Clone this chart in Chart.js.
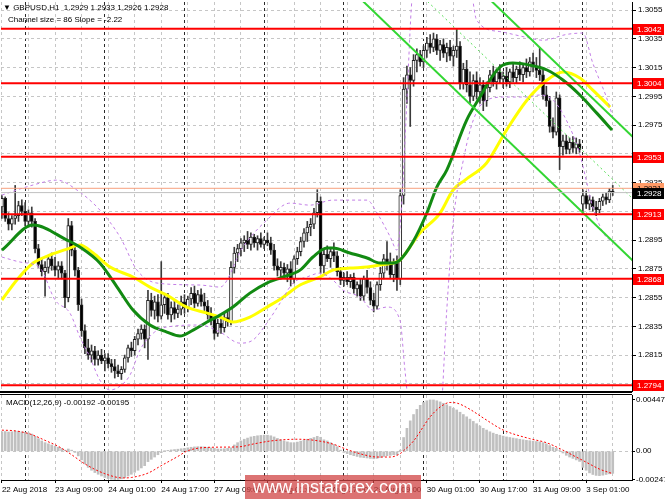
<!DOCTYPE html>
<html>
<head>
<meta charset="utf-8">
<script src="https://cdn.jsdelivr.net/npm/chart.js@4.4.0/dist/chart.umd.min.js"></script>
<style>
html, body { margin: 0; padding: 0; background: #fff; }
#wrap { position: relative; width: 665px; height: 499px; overflow: hidden; background: #fff; }
#main { position: absolute; left: 0; top: 0; }
#macd { position: absolute; left: 0; top: 393px; }
.t { position: absolute; font: 8px "Liberation Sans", Arial, sans-serif; line-height: 10px; color: #000; white-space: pre; }
#wm { position: absolute; left: 245px; top: 475px; width: 176px; height: 24px; background: rgba(208, 66, 66, 0.74);
      color: #fff; font: 18px "Liberation Sans", Arial, sans-serif; line-height: 25px; text-align: center; }
</style>
</head>
<body>
<div id="wrap">
  <canvas id="main" width="665" height="393"></canvas>
  <canvas id="macd" width="665" height="106"></canvas>
  <div class="t" style="left:3px;top:3px">▼ GBPUSD,H1  1.2929 1.2933 1.2926 1.2928</div>
  <div class="t" style="left:8px;top:15px">Channel size = 86 Slope = -2.22</div>
  <div class="t" style="left:6px;top:398px">MACD(12,26,9) -0.00192 -0.00195</div>
  <div id="wm">www.instaforex.com</div>
</div>
<script>
// GBPUSD H1, 22 Aug 17:00 .. 3 Sep 09:00 (bar index 0..184)
const timeLabels = ['22 Aug 2018', '23 Aug 09:00', '24 Aug 01:00', '24 Aug 17:00', '27 Aug 09:00', '28 Aug 01:00',
  '28 Aug 17:00', '29 Aug 09:00', '30 Aug 01:00', '30 Aug 17:00', '31 Aug 09:00', '3 Sep 01:00'];
const daySeparators = [7, 31, 55, 79, 103, 127, 151, 175];

const opens = [
  1.2918,1.2924,1.2910,1.2906,1.2910,1.2912,1.2919,1.2915,1.2908,1.2914,
  1.2908,1.2889,1.2878,1.2873,1.2876,1.2882,1.2877,1.2874,1.2877,1.2872,
  1.2855,1.2905,1.2888,1.2874,1.2850,1.2832,1.2820,1.2815,1.2818,1.2812,
  1.2815,1.2811,1.2813,1.2809,1.2807,1.2804,1.2802,1.2805,1.2813,1.2820,
  1.2818,1.2826,1.2830,1.2833,1.2826,1.2853,1.2846,1.2852,1.2842,1.2850,
  1.2855,1.2843,1.2848,1.2844,1.2847,1.2852,1.2848,1.2854,1.2858,1.2851,
  1.2857,1.2852,1.2849,1.2843,1.2840,1.2830,1.2837,1.2834,1.2841,1.2838,
  1.2876,1.2886,1.2889,1.2893,1.2895,1.2892,1.2897,1.2893,1.2896,1.2892,
  1.2895,1.2893,1.2888,1.2877,1.2874,1.2876,1.2872,1.2875,1.2868,1.2882,
  1.2887,1.2894,1.2900,1.2904,1.2906,1.2914,1.2922,1.2877,1.2885,1.2882,
  1.2887,1.2884,1.2873,1.2867,1.2869,1.2866,1.2869,1.2861,1.2864,1.2856,
  1.2868,1.2862,1.2853,1.2849,1.2864,1.2872,1.2882,1.2878,1.2871,1.2879,
  1.2868,1.2926,1.3000,1.3010,1.3006,1.3020,1.3024,1.3019,1.3027,1.3032,
  1.3029,1.3035,1.3027,1.3031,1.3025,1.3029,1.3023,1.3027,1.3030,1.3004,
  1.3014,1.3003,1.2995,1.3006,1.2998,1.3003,1.2992,1.3001,1.3010,1.3005,
  1.3012,1.3007,1.3009,1.3005,1.3012,1.3008,1.3014,1.3010,1.3015,1.3012,
  1.3019,1.3016,1.3013,1.3010,1.2996,1.2992,1.2974,1.2970,1.2994,1.2960,
  1.2964,1.2958,1.2963,1.2959,1.2962,1.2920,1.2926,1.2920,1.2923,1.2918,
  1.2916,1.2922,1.2925,1.2923,1.2929];
const highs = [
  1.2926,1.2925,1.2914,1.2912,1.2933,1.2922,1.2923,1.2921,1.2916,1.2918,
  1.2910,1.2892,1.2882,1.2880,1.2884,1.2886,1.2883,1.2880,1.2880,1.2874,
  1.2910,1.2908,1.2892,1.2876,1.2854,1.2836,1.2826,1.2822,1.2821,1.2818,
  1.2819,1.2816,1.2816,1.2812,1.2812,1.2808,1.2807,1.2815,1.2822,1.2824,
  1.2828,1.2833,1.2836,1.2836,1.2860,1.2858,1.2856,1.2857,1.2880,1.2858,
  1.2858,1.2852,1.2853,1.2850,1.2856,1.2857,1.2856,1.2862,1.2863,1.2860,
  1.2861,1.2858,1.2853,1.2848,1.2843,1.2840,1.2842,1.2844,1.2846,1.2880,
  1.2890,1.2892,1.2896,1.2898,1.2901,1.2900,1.2899,1.2898,1.2900,1.2897,
  1.2900,1.2897,1.2892,1.2882,1.2880,1.2879,1.2878,1.2880,1.2884,1.2890,
  1.2897,1.2903,1.2908,1.2910,1.2917,1.2930,1.2925,1.2888,1.2891,1.2890,
  1.2893,1.2887,1.2876,1.2872,1.2873,1.2871,1.2872,1.2866,1.2868,1.2870,
  1.2874,1.2866,1.2858,1.2866,1.2876,1.2885,1.2894,1.2886,1.2882,1.2884,
  1.2930,1.3008,1.3016,1.3015,1.3024,1.3028,1.3027,1.3030,1.3036,1.3038,
  1.3039,1.3038,1.3034,1.3035,1.3032,1.3034,1.3030,1.3042,1.3033,1.3018,
  1.3020,1.3012,1.3010,1.3012,1.3008,1.3006,1.3005,1.3013,1.3016,1.3014,
  1.3017,1.3012,1.3015,1.3014,1.3018,1.3016,1.3019,1.3017,1.3021,1.3022,
  1.3025,1.3022,1.3029,1.3013,1.3002,1.2995,1.2980,1.2998,1.2996,1.2968,
  1.2968,1.2966,1.2967,1.2966,1.2965,1.2930,1.2929,1.2926,1.2925,1.2922,
  1.2924,1.2927,1.2928,1.2931,1.2933];
const lows = [
  1.2910,1.2908,1.2902,1.2902,1.2906,1.2908,1.2912,1.2905,1.2904,1.2904,
  1.2886,1.2876,1.2870,1.2856,1.2872,1.2874,1.2870,1.2868,1.2868,1.2848,
  1.2852,1.2884,1.2870,1.2846,1.2828,1.2816,1.2812,1.2810,1.2808,1.2808,
  1.2809,1.2804,1.2806,1.2803,1.2799,1.2800,1.2798,1.2803,1.2810,1.2814,
  1.2815,1.2822,1.2826,1.2820,1.2812,1.2842,1.2840,1.2838,1.2840,1.2844,
  1.2840,1.2838,1.2840,1.2841,1.2843,1.2844,1.2845,1.2850,1.2848,1.2849,
  1.2849,1.2846,1.2840,1.2836,1.2826,1.2828,1.2830,1.2831,1.2835,1.2836,
  1.2872,1.2880,1.2884,1.2887,1.2889,1.2888,1.2890,1.2888,1.2890,1.2889,
  1.2891,1.2885,1.2874,1.2870,1.2868,1.2869,1.2866,1.2863,1.2865,1.2878,
  1.2884,1.2890,1.2894,1.2898,1.2903,1.2911,1.2872,1.2872,1.2880,1.2876,
  1.2880,1.2870,1.2864,1.2863,1.2864,1.2862,1.2858,1.2856,1.2853,1.2853,
  1.2858,1.2850,1.2845,1.2847,1.2860,1.2868,1.2874,1.2868,1.2866,1.2860,
  1.2864,1.2920,1.2990,1.2974,1.3002,1.3012,1.3016,1.3015,1.3022,1.3025,
  1.3026,1.3024,1.3020,1.3022,1.3019,1.3020,1.3016,1.3022,1.3000,1.3000,
  1.2998,1.2990,1.2992,1.2993,1.2990,1.2985,1.2988,1.2998,1.3002,1.3000,
  1.3004,1.3001,1.3002,1.3001,1.3005,1.3004,1.3006,1.3005,1.3008,1.3009,
  1.3012,1.3008,1.3006,1.2993,1.2988,1.2970,1.2966,1.2968,1.2944,1.2954,
  1.2955,1.2955,1.2956,1.2955,1.2956,1.2915,1.2917,1.2916,1.2915,1.2912,
  1.2914,1.2919,1.2920,1.2921,1.2926];
const closes = [
  1.2924,1.2910,1.2906,1.2910,1.2912,1.2919,1.2915,1.2908,1.2914,1.2908,
  1.2889,1.2878,1.2873,1.2876,1.2882,1.2877,1.2874,1.2877,1.2872,1.2855,
  1.2905,1.2888,1.2874,1.2850,1.2832,1.2820,1.2815,1.2818,1.2812,1.2815,
  1.2811,1.2813,1.2809,1.2807,1.2804,1.2802,1.2805,1.2813,1.2820,1.2818,
  1.2826,1.2830,1.2833,1.2826,1.2853,1.2846,1.2852,1.2842,1.2850,1.2855,
  1.2843,1.2848,1.2844,1.2847,1.2852,1.2848,1.2854,1.2858,1.2851,1.2857,
  1.2852,1.2849,1.2843,1.2840,1.2830,1.2837,1.2834,1.2841,1.2838,1.2876,
  1.2886,1.2889,1.2893,1.2895,1.2892,1.2897,1.2893,1.2896,1.2892,1.2895,
  1.2893,1.2888,1.2877,1.2874,1.2876,1.2872,1.2875,1.2868,1.2882,1.2887,
  1.2894,1.2900,1.2904,1.2906,1.2914,1.2922,1.2877,1.2885,1.2882,1.2887,
  1.2884,1.2873,1.2867,1.2869,1.2866,1.2869,1.2861,1.2864,1.2856,1.2868,
  1.2862,1.2853,1.2849,1.2864,1.2872,1.2882,1.2878,1.2871,1.2879,1.2868,
  1.2926,1.3000,1.3010,1.3006,1.3020,1.3024,1.3019,1.3027,1.3032,1.3029,
  1.3035,1.3027,1.3031,1.3025,1.3029,1.3023,1.3027,1.3030,1.3004,1.3014,
  1.3003,1.2995,1.3006,1.2998,1.3003,1.2992,1.3001,1.3010,1.3005,1.3012,
  1.3007,1.3009,1.3005,1.3012,1.3008,1.3014,1.3010,1.3015,1.3012,1.3019,
  1.3016,1.3013,1.3010,1.2996,1.2992,1.2974,1.2970,1.2994,1.2960,1.2964,
  1.2958,1.2963,1.2959,1.2962,1.2958,1.2926,1.2920,1.2923,1.2918,1.2916,
  1.2922,1.2925,1.2923,1.2929,1.2928];

// moving averages and bands, read as [bar index, price]
const greenMA = [[0,1.28880],[9.4,1.29054],[19.6,1.28950],[23.5,1.28901],[29.5,1.28790],[34.7,1.28623],[39.5,1.28463],
  [44.6,1.28359],[49.7,1.28310],[53.6,1.28282],[57.6,1.28324],[61.8,1.28380],[65.7,1.28428],[69.6,1.28484],[74.7,1.28581],
  [79.8,1.28651],[84.7,1.28693],[89.8,1.28741],[93.7,1.28832],[97.9,1.28894],[99.7,1.28894],[104.8,1.28860],[110,1.28825],
  [113.9,1.28790],[117.8,1.28790],[119.9,1.28811],[123.8,1.28936],[128,1.29138],[131,1.29319],[134,1.29437],[140,1.29785],
  [144,1.29945],[147,1.30063],[150,1.30153],[153.9,1.30181],[159,1.30167],[164.2,1.30133],[169,1.30063],[174.1,1.29959],
  [179.2,1.29833],[183.8,1.29715]];
const yellowMA = [[0,1.28533],[4.5,1.28672],[9.4,1.28790],[14.5,1.28846],[19.6,1.28887],[23.5,1.28915],[27.5,1.28860],
  [32.6,1.28762],[39.5,1.28693],[44.6,1.28623],[49.7,1.28567],[55.7,1.28483],[61.8,1.28442],[65.7,1.28414],[69.6,1.28380],
  [74.7,1.28414],[79.8,1.28483],[84.7,1.28553],[89.8,1.28637],[95.8,1.28693],[99.7,1.28741],[104.8,1.28755],[110,1.28762],
  [113.9,1.28776],[117.8,1.28790],[119.9,1.28811],[125.9,1.28999],[132,1.29138],[135.9,1.29298],[139.5,1.29367],
  [146,1.29486],[152,1.29715],[158.2,1.29924],[164.2,1.30063],[169,1.30119],[174.1,1.30077],[178,1.29993],[183.2,1.29875]];
const upperBand = [[0,1.29263],[9.4,1.29333],[16.6,1.29367],[22.6,1.29298],[29.5,1.29159],[35.6,1.28971],[40.7,1.28741],
  [46.7,1.28651],[59.7,1.28637],[65.7,1.28623],[72.6,1.28901],[79.8,1.29089],[86.8,1.29207],[92.8,1.29193],[99.7,1.29228],
  [110,1.29228],[113,1.29138],[117,1.28971],[119,1.28880],[120.5,1.29228],[122,1.29924],[123.5,1.30620],[126,1.3085],
  [132,1.3100],[138,1.3098],[141,1.3075],[143,1.3048],[150,1.3040],[158,1.3036],[163,1.3034],[170,1.3038],[175,1.3039],
  [178,1.3018],[182,1.2995],[184,1.2981]];
const lowerBand = [[0,1.28832],[5.5,1.28797],[11.5,1.28755],[16,1.28533],[20.5,1.28442],[23.5,1.28275],[26.5,1.28136],
  [29.5,1.27976],[32.6,1.27907],[35.6,1.27934],[38.6,1.28011],[41.6,1.28185],[46,1.28310],[52,1.28352],[59.7,1.28359],
  [65.7,1.28310],[71.7,1.28233],[75.6,1.28254],[79.8,1.28372],[83.8,1.28512],[87.7,1.28651],[91.9,1.28693],[95.8,1.28720],
  [99.7,1.28672],[102.7,1.28602],[107.9,1.28553],[111.8,1.28463],[116,1.28484],[119.9,1.28394],[121.4,1.28046],
  [123.5,1.27628],[127.4,1.27558],[132,1.27698],[134,1.28463],[136,1.29089],[139,1.29507],[142,1.29785],[146,1.29924],
  [152,1.29945],[158,1.29945],[162,1.29959],[166,1.29924],[170,1.29785],[174,1.29555],[176,1.29367],[178,1.29180],
  [182,1.28971],[184,1.28950]];

// regression channel end points [bar index, price]
const channelLower = [[100, 1.30806], [190, 1.28808]];
const channelMiddle = [[100, 1.31236], [190, 1.29238]];
const channelUpper = [[100, 1.31666], [190, 1.29668]];

const levels = [1.3042, 1.3004, 1.2953, 1.2913, 1.2868, 1.2794];
const bidPrice = 1.2928;
const askPrice = 1.2931;
const priceTicks = [1.3055, 1.3035, 1.3015, 1.2995, 1.2975, 1.2955, 1.2935, 1.2915, 1.2895, 1.2875, 1.2855, 1.2835, 1.2815, 1.2795];
const hiddenPriceTicks = [1.2955, 1.2915, 1.2795];

const macdMain = [
  0.00170,0.00172,0.00168,0.00170,0.00175,0.00172,0.00168,0.00165,0.00160,0.00150,
  0.00130,0.00110,0.00090,0.00075,0.00065,0.00055,0.00045,0.00035,0.00025,0.00010,
  0.00020,0.00010,-0.00010,-0.00040,-0.00075,-0.00110,-0.00140,-0.00165,-0.00185,-0.00200,
  -0.00215,-0.00228,-0.00238,-0.00244,-0.00247,-0.00245,-0.00240,-0.00230,-0.00215,-0.00200,
  -0.00183,-0.00165,-0.00145,-0.00125,-0.00090,-0.00070,-0.00050,-0.00030,-0.00012,0.00005,
  0.00008,0.00012,0.00015,0.00018,0.00022,0.00025,0.00030,0.00035,0.00038,0.00040,
  0.00040,0.00038,0.00035,0.00030,0.00025,0.00020,0.00020,0.00022,0.00025,0.00030,
  0.00055,0.00075,0.00090,0.00105,0.00115,0.00125,0.00130,0.00135,0.00138,0.00140,
  0.00140,0.00135,0.00125,0.00112,0.00100,0.00090,0.00082,0.00075,0.00075,0.00080,
  0.00088,0.00095,0.00105,0.00112,0.00120,0.00130,0.00122,0.00100,0.00090,0.00075,
  0.00060,0.00040,0.00010,-0.00010,-0.00020,-0.00030,-0.00038,-0.00045,-0.00052,-0.00055,
  -0.00058,-0.00062,-0.00065,-0.00062,-0.00055,-0.00045,-0.00038,-0.00035,-0.00030,-0.00030,
  0.00010,0.00120,0.00200,0.00265,0.00320,0.00365,0.00400,0.00425,0.00440,0.00447,
  0.00447,0.00440,0.00430,0.00418,0.00405,0.00390,0.00375,0.00360,0.00340,0.00320,
  0.00300,0.00280,0.00260,0.00240,0.00220,0.00200,0.00185,0.00170,0.00158,0.00148,
  0.00140,0.00132,0.00125,0.00120,0.00115,0.00110,0.00105,0.00100,0.00095,0.00092,
  0.00088,0.00085,0.00082,0.00075,0.00065,0.00050,0.00035,0.00025,0.00005,-0.00015,
  -0.00035,-0.00050,-0.00062,-0.00075,-0.00088,-0.00140,-0.00165,-0.00188,-0.00202,-0.00210,
  -0.00212,-0.00208,-0.00202,-0.00196,-0.00192];
const macdSignal = [[0,0.00184],[4,0.00178],[8.5,0.00150],[13,0.00095],[17.5,0.00035],[21,-0.00030],[25,-0.00110],
  [31,-0.00195],[36.5,-0.00232],[39,-0.00228],[44,-0.00190],[48,-0.00125],[53,-0.00045],[56,0.00005],[63,0.00035],
  [71,0.00038],[76,0.00065],[81,0.00090],[89,0.00105],[95,0.00092],[100,0.00060],[104,0.00015],[109,-0.00030],
  [113,-0.00050],[117,-0.00050],[120,-0.00020],[121,0.00005],[124,0.00090],[129,0.00300],[132,0.00385],[135,0.00425],
  [137,0.00420],[141,0.00365],[145,0.00290],[151,0.00185],[159,0.00110],[164,0.00075],[169,0.00010],[172,-0.00035],
  [176,-0.00095],[180,-0.00155],[184,-0.00195]];
const macdTicks = [0.00447, 0, -0.00247];

const FONT = '"Liberation Sans", Arial, sans-serif';
const X_MIN = -0.27, X_MAX = 189.8;
const GRID = '#c6c6c6';

const gridTicks = [];
for (let i = 0; i <= 184; i += 8) gridTicks.push(i);
daySeparators.forEach(d => gridTicks.push(d));
gridTicks.sort((a, b) => a - b);

const pts = list => list.map(([x, y]) => ({x, y}));
const isDay = c => c.tick && daySeparators.includes(c.tick.value);
// keep the plot box fixed: no extra room for half tick labels
const noPad = s => { s.paddingTop = 0; s.paddingBottom = 0; s.paddingLeft = 0; s.paddingRight = 0; };

function xAxis(showLabels) {
  return {
    type: 'linear', min: X_MIN, max: X_MAX, offset: false,
    afterBuildTicks: s => { s.ticks = gridTicks.map(v => ({value: v})); },
    afterFit: s => { s.height = showLabels ? 19 : 0; noPad(s); },
    grid: {
      offset: false,
      color: c => isDay(c) ? '#2a2a2a' : GRID,
      drawTicks: showLabels, tickLength: 3,
      tickColor: c => (c.tick && c.tick.value % 16 === 0) ? '#000' : 'rgba(0,0,0,0)'
    },
    border: {display: showLabels, color: '#000', dash: [3, 3]},
    ticks: {
      display: showLabels, autoSkip: false, maxRotation: 0, minRotation: 0, align: 'start', padding: 2,
      font: {family: FONT, size: 8}, color: '#000',
      callback: v => v % 16 === 0 ? timeLabels[v / 16] : ''
    }
  };
}

const priceLabels = {
  id: 'priceLabels',
  afterDraw(chart) {
    const {ctx, chartArea} = chart;
    const y = chart.scales.y;
    ctx.save();
    // panel bottom border
    ctx.strokeStyle = '#000';
    ctx.lineWidth = 2;
    ctx.beginPath();
    ctx.moveTo(0, chartArea.bottom + 1);
    ctx.lineTo(chartArea.right, chartArea.bottom + 1);
    ctx.stroke();
    ctx.font = '8px ' + FONT;
    ctx.textBaseline = 'middle';
    const box = (v, bg, fg) => {
      const py = Math.round(y.getPixelForValue(v));
      ctx.fillStyle = bg;
      ctx.fillRect(chartArea.right + 1, py - 5, 31, 11);
      ctx.fillStyle = fg;
      ctx.fillText(v.toFixed(4), chartArea.right + 5, py + 0.5);
    };
    box(askPrice, '#ff9a66', '#000');
    box(bidPrice, '#000', '#fff');
    levels.forEach(v => box(v, '#ff0000', '#fff'));
    ctx.restore();
  }
};

const hline = (v, color, width, order) => ({
  type: 'line', data: [{x: X_MIN, y: v}, {x: X_MAX, y: v}],
  borderColor: color, borderWidth: width, pointRadius: 0, order
});

new Chart(document.getElementById('main'), {
  type: 'line',
  data: {
    datasets: [
      {type: 'bar', data: lows.map((l, i) => ({x: i, y: [l, highs[i]]})), backgroundColor: '#3a3a3a',
        barThickness: 1, grouped: false, order: 9},
      {type: 'bar', data: opens.map((o, i) => ({x: i, y: [o, closes[i]]})),
        backgroundColor: closes.map((c, i) => c >= opens[i] ? '#ffffff' : '#000000'),
        borderColor: '#222', borderWidth: 1, borderSkipped: false, barThickness: 3, minBarLength: 1,
        grouped: false, order: 8},
      {data: pts(yellowMA), borderColor: '#ffff00', borderWidth: 3, pointRadius: 0, cubicInterpolationMode: 'monotone', order: 7},
      {data: pts(greenMA), borderColor: '#128a12', borderWidth: 3, pointRadius: 0, cubicInterpolationMode: 'monotone', order: 6},
      {data: pts(upperBand), borderColor: '#c27ee6', borderWidth: 1, borderDash: [3, 3], pointRadius: 0, cubicInterpolationMode: 'monotone', order: 5},
      {data: pts(lowerBand), borderColor: '#c27ee6', borderWidth: 1, borderDash: [3, 3], pointRadius: 0, cubicInterpolationMode: 'monotone', order: 5},
      {data: pts(channelLower), borderColor: '#33d633', borderWidth: 2, pointRadius: 0, order: 4},
      {data: pts(channelMiddle), borderColor: '#55dd55', borderWidth: 1, borderDash: [2, 3], pointRadius: 0, order: 4},
      {data: pts(channelUpper), borderColor: '#33d633', borderWidth: 2, pointRadius: 0, order: 4},
      hline(askPrice, '#f6a07e', 1, 3),
      hline(bidPrice, '#c0c0c0', 1, 3),
      ...levels.map(v => hline(v, '#ff0000', 2, 1))
    ]
  },
  options: {
    responsive: false, animation: false, events: [],
    layout: {padding: {left: 1, top: 2, right: 0, bottom: 2}},
    plugins: {legend: {display: false}, tooltip: {enabled: false}},
    scales: {
      x: xAxis(false),
      y: {
        position: 'right', min: 1.2790, max: 1.30606, beginAtZero: false,
        afterBuildTicks: s => { s.ticks = priceTicks.map(v => ({value: v})); },
        afterFit: s => { s.width = 33; noPad(s); },
        grid: {color: GRID, tickColor: '#000', tickLength: 4},
        border: {display: true, color: '#000', dash: [3, 3]},
        ticks: {padding: 2, font: {family: FONT, size: 8}, color: '#000',
          callback: v => hiddenPriceTicks.includes(v) ? '' : v.toFixed(4)}
      }
    }
  },
  plugins: [priceLabels]
});

const macdFrame = {
  id: 'macdFrame',
  afterDraw(chart) {
    const {ctx, chartArea} = chart;
    ctx.save();
    ctx.strokeStyle = '#000';
    ctx.lineWidth = 1;
    ctx.beginPath();
    ctx.moveTo(0, chartArea.top - 0.5);
    ctx.lineTo(chartArea.right, chartArea.top - 0.5);
    ctx.stroke();
    ctx.restore();
  }
};

new Chart(document.getElementById('macd'), {
  type: 'line',
  data: {
    datasets: [
      {type: 'bar', data: macdMain.map((v, i) => ({x: i, y: v})), backgroundColor: '#c0c0c0',
        barThickness: 2, grouped: false, order: 2},
      {data: pts(macdSignal), borderColor: '#ff0000', borderWidth: 1, borderDash: [2, 2], pointRadius: 0,
        cubicInterpolationMode: 'monotone', order: 1}
    ]
  },
  options: {
    responsive: false, animation: false, events: [],
    layout: {padding: {left: 1, top: 2, right: 0, bottom: 0}},
    plugins: {legend: {display: false}, tooltip: {enabled: false}},
    scales: {
      x: xAxis(true),
      y: {
        position: 'right', min: -0.0025, max: 0.0049, beginAtZero: false,
        afterBuildTicks: s => { s.ticks = macdTicks.map(v => ({value: v})); },
        afterFit: s => { s.width = 33; noPad(s); },
        grid: {color: c => (c.tick && c.tick.value === 0) ? GRID : 'rgba(0,0,0,0)', tickColor: '#000', tickLength: 3},
        border: {display: true, color: '#000', dash: [3, 3]},
        ticks: {padding: 1, font: {family: FONT, size: 8}, color: '#000',
          callback: v => v === 0 ? '0.00' : v.toFixed(5)}
      }
    }
  },
  plugins: [macdFrame]
});
</script>
</body>
</html>
